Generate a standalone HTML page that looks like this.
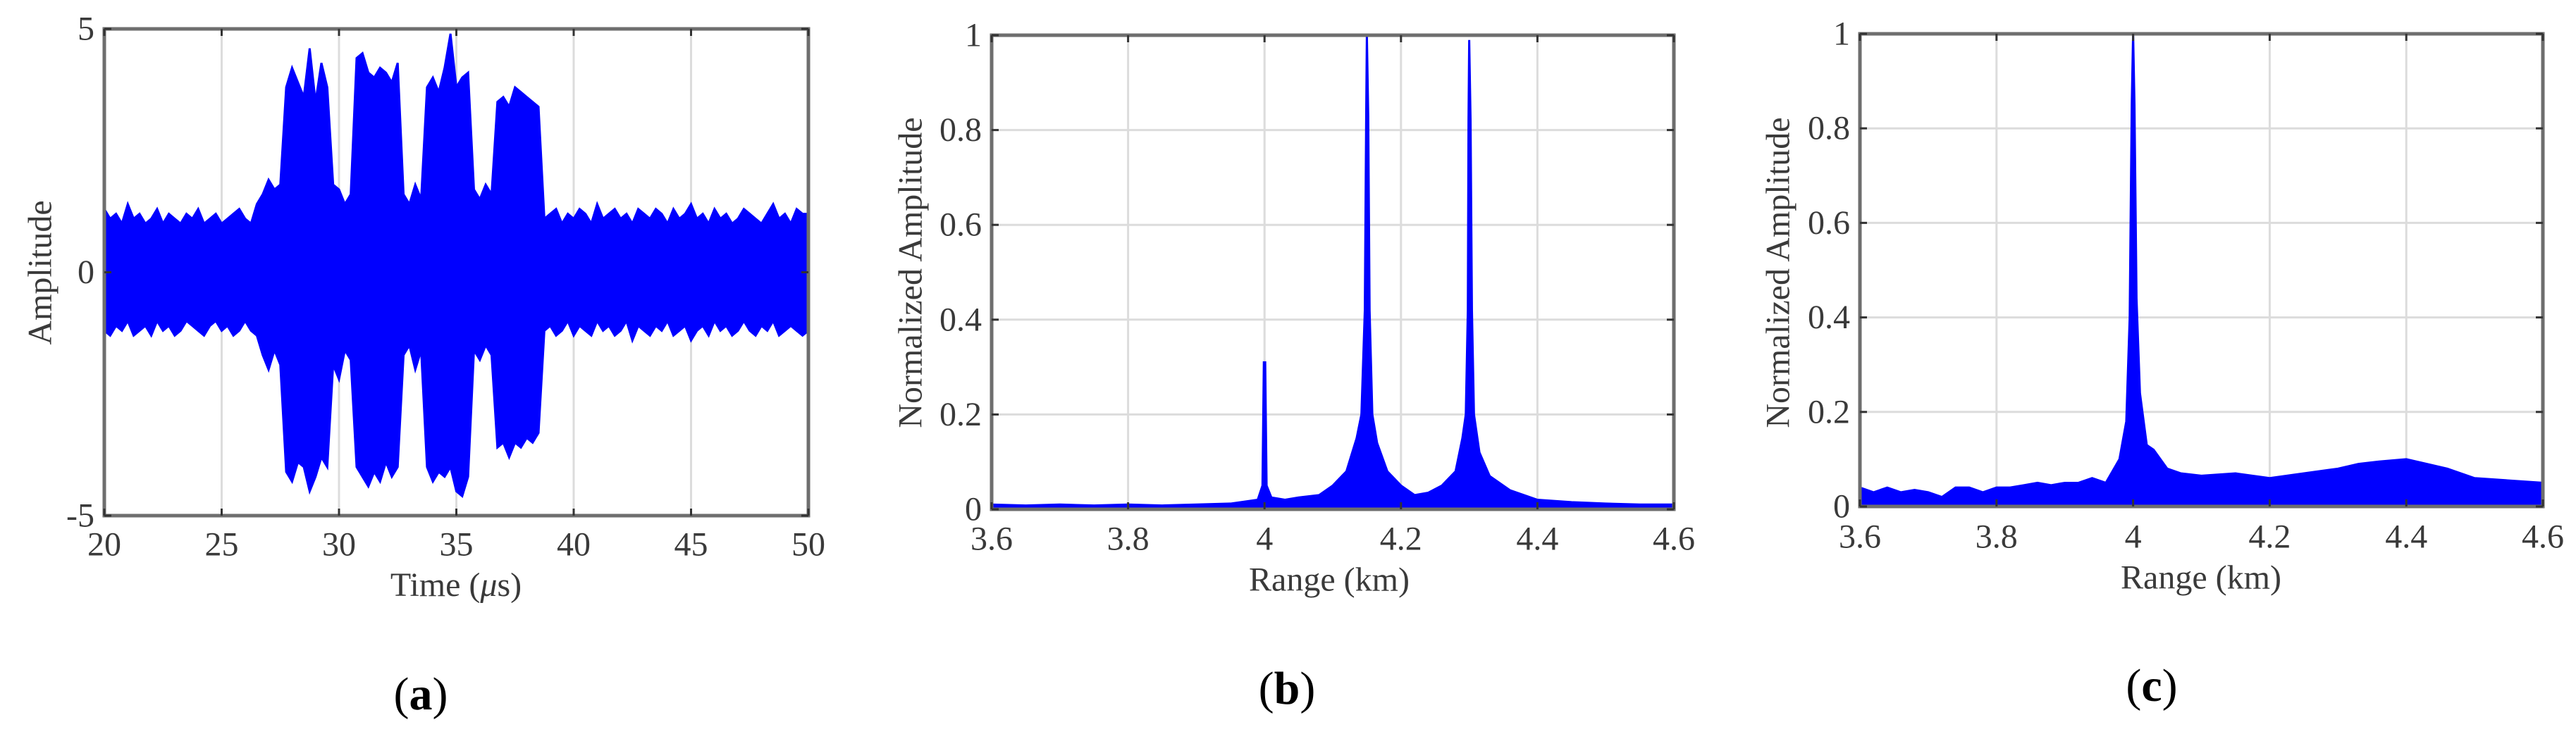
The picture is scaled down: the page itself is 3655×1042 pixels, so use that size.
<!DOCTYPE html>
<html><head><meta charset="utf-8">
<style>
html,body{margin:0;padding:0;background:#fff;}
svg{display:block;}
text{font-family:"Liberation Serif",serif;fill:#3a3a3a;}
</style></head>
<body>
<svg id="fig" width="3655" height="1042" viewBox="0 0 3655 1042" xmlns="http://www.w3.org/2000/svg"></svg>
<script>
// ---- Panel (a) data: time-domain envelope, step 0.25 us from 20 to 50
const timeStart = 20, timeStep = 0.25;
const ampUpper = [1.3,1.1,1.2,1.0,1.4,1.1,1.2,1.0,1.1,1.3,1.0,1.2,1.1,1.0,1.2,1.1,1.3,1.0,1.1,1.2,1.0,1.1,1.2,1.3,1.1,1.0,1.4,
 1.6,1.9,1.7,1.8,
 3.8,4.2,3.9,3.6,4.6,3.5,4.3,3.8,
 1.8,1.7,1.4,1.6,
 4.4,4.5,4.1,4.0,4.2,4.1,3.9,4.3,
 1.6,1.4,1.8,1.5,
 3.8,4.0,3.7,4.2,4.9,3.8,4.0,4.1,
 1.7,1.5,1.8,1.6,
 3.5,3.6,3.4,3.8,3.7,3.6,3.5,3.4,
 1.1,1.2,1.3,1.0,1.2,1.1,1.3,1.2,1.0,1.4,1.1,1.2,1.3,1.1,1.2,1.0,1.3,1.2,1.1,1.3,1.2,1.0,1.3,1.1,1.2,1.4,1.1,1.2,1.0,1.3,1.1,1.2,1.0,1.1,1.3,1.2,1.1,1.0,1.2,1.4,1.1,1.2,1.0,1.3,1.2,1.2];
const ampLower = [-1.2,-1.3,-1.1,-1.2,-1.0,-1.3,-1.2,-1.1,-1.3,-1.0,-1.2,-1.1,-1.3,-1.2,-1.0,-1.1,-1.2,-1.3,-1.1,-1.0,-1.2,-1.1,-1.3,-1.2,-1.0,-1.2,-1.3,
 -1.7,-2.0,-1.6,-1.9,
 -4.1,-4.3,-3.9,-4.0,-4.5,-4.2,-3.8,-4.0,
 -1.9,-2.2,-1.6,-1.8,
 -4.0,-4.2,-4.4,-4.1,-4.3,-3.9,-4.2,-4.0,
 -1.7,-1.5,-2.0,-1.6,
 -4.0,-4.3,-4.1,-4.2,-4.0,-4.5,-4.6,-4.2,
 -1.6,-1.8,-1.5,-1.7,
 -3.6,-3.5,-3.8,-3.5,-3.6,-3.4,-3.5,-3.3,
 -1.2,-1.1,-1.3,-1.2,-1.0,-1.3,-1.1,-1.2,-1.3,-1.0,-1.2,-1.1,-1.3,-1.2,-1.0,-1.4,-1.1,-1.2,-1.3,-1.1,-1.2,-1.0,-1.3,-1.2,-1.1,-1.4,-1.2,-1.1,-1.3,-1.0,-1.2,-1.1,-1.3,-1.2,-1.0,-1.2,-1.3,-1.1,-1.2,-1.0,-1.3,-1.2,-1.1,-1.2,-1.3,-1.2];
const timeTicks = [20,25,30,35,40,45,50];
const ampTicks = [-5,0,5];

// ---- Panel (b) data
const rangeB = [3.6,3.65,3.7,3.75,3.8,3.85,3.9,3.95,3.99,3.997,3.999,4.001,4.003,4.01,4.03,4.05,4.08,4.1,4.12,4.135,4.142,4.147,4.149,4.15,4.152,4.154,4.158,4.165,4.18,4.2,4.22,4.24,4.26,4.28,4.29,4.295,4.298,4.299,4.3,4.302,4.304,4.307,4.315,4.33,4.36,4.4,4.45,4.5,4.55,4.6];
const ampB = [0.01,0.008,0.01,0.008,0.01,0.008,0.01,0.012,0.02,0.05,0.31,0.31,0.05,0.025,0.02,0.025,0.03,0.05,0.08,0.15,0.2,0.42,0.83,1.0,0.83,0.42,0.2,0.14,0.08,0.05,0.03,0.035,0.05,0.08,0.15,0.2,0.42,0.82,0.99,0.82,0.42,0.2,0.12,0.07,0.04,0.02,0.015,0.012,0.01,0.01];

// ---- Panel (c) data
const rangeC = [3.6,3.62,3.64,3.66,3.68,3.7,3.72,3.74,3.76,3.78,3.8,3.82,3.84,3.86,3.88,3.9,3.92,3.94,3.96,3.98,3.99,3.995,3.998,4.0,4.002,4.005,4.01,4.02,4.03,4.05,4.07,4.1,4.15,4.2,4.25,4.3,4.33,4.36,4.4,4.43,4.46,4.5,4.55,4.6];
const ampC = [0.04,0.03,0.04,0.03,0.035,0.03,0.02,0.04,0.04,0.03,0.04,0.04,0.045,0.05,0.045,0.05,0.05,0.06,0.05,0.1,0.18,0.4,0.85,1.0,0.85,0.44,0.24,0.13,0.12,0.08,0.07,0.065,0.07,0.06,0.07,0.08,0.09,0.095,0.1,0.09,0.08,0.06,0.055,0.05];
const rangeTicks = [3.6,3.8,4.0,4.2,4.4,4.6];
const rangeTickLabels = ["3.6","3.8","4","4.2","4.4","4.6"];
const normTicks = [0,0.2,0.4,0.6,0.8,1];
const normTickLabels = ["0","0.2","0.4","0.6","0.8","1"];

const NS = "http://www.w3.org/2000/svg";
const svg = document.getElementById('fig');
function el(tag, attrs, parent){ const e=document.createElementNS(NS,tag); for(const k in attrs) e.setAttribute(k,attrs[k]); (parent||svg).appendChild(e); return e; }
function txt(s, attrs, parent){ const t=el('text',attrs,parent); t.textContent=s; return t; }

function makeAxes(cfg){
  const g = el('g',{});
  
  
  const sx = v => cfg.L + (v-cfg.x0)/(cfg.x1-cfg.x0)*(cfg.R-cfg.L);
  const sy = v => cfg.B - (v-cfg.y0)/(cfg.y1-cfg.y0)*(cfg.B-cfg.T);
  // grid
  cfg.xt.forEach(v=>{ const l=el('line',{x1:sx(v),x2:sx(v),y1:cfg.T,y2:cfg.B,stroke:'#dcdcdc','stroke-width':3},g);
      });
  cfg.yt.forEach(v=>{ const l=el('line',{x1:cfg.L,x2:cfg.R,y1:sy(v),y2:sy(v),stroke:'#dcdcdc','stroke-width':3},g);
      });
  return {g,sx,sy};
}
function finishAxes(cfg, ax){
  const g=ax.g, sx=ax.sx, sy=ax.sy;
  const box=el('rect',{x:cfg.L,y:cfg.T,width:cfg.R-cfg.L,height:cfg.B-cfg.T,fill:'none',stroke:'#6e6e6e','stroke-width':5},g);
   
  cfg.xt.forEach((v,i)=>{
    el('line',{x1:sx(v),x2:sx(v),y1:cfg.B,y2:cfg.B-10,stroke:'#333','stroke-width':3},g);
    el('line',{x1:sx(v),x2:sx(v),y1:cfg.T,y2:cfg.T+10,stroke:'#333','stroke-width':3},g);
    const t=txt(cfg.xl[i],{x:sx(v),y:cfg.labY,'font-size':48,'text-anchor':'middle','dominant-baseline':'central'},g);
     
  });
  cfg.yt.forEach((v,i)=>{
    el('line',{x1:cfg.L,x2:cfg.L+10,y1:sy(v),y2:sy(v),stroke:'#333','stroke-width':3},g);
    el('line',{x1:cfg.R,x2:cfg.R-10,y1:sy(v),y2:sy(v),stroke:'#333','stroke-width':3},g);
    const t=txt(cfg.yl[i],{x:cfg.L-14,y:sy(v),'font-size':48,'text-anchor':'end','dominant-baseline':'central'},g);
     
  });
  const xt=txt(cfg.xlabel,{x:cfg.xlabX,y:cfg.xlabY,'font-size':48,'text-anchor':'middle','dominant-baseline':'central'},g);
   
  if(cfg.xlabelHTML){ xt.textContent=''; const a=el('tspan',{},xt); a.textContent='Time ('; const b=el('tspan',{'font-style':'italic'},xt); b.textContent='μ'; const c=el('tspan',{},xt); c.textContent='s)'; }
  const yt=txt(cfg.ylabel,{x:cfg.ylabX,y:cfg.ylabY,'font-size':48,'text-anchor':'middle','dominant-baseline':'central',transform:`rotate(-90 ${cfg.ylabX} ${cfg.ylabY})`},g);
   
  const cap=el('text',{x:cfg.capX,y:cfg.capY,'font-size':66,'text-anchor':'middle','dominant-baseline':'central'},g);
   
  cap.style.fill='#000';
  const p1=el('tspan',{},cap); p1.textContent='(';
  const p2=el('tspan',{'font-weight':'bold'},cap); p2.textContent=cfg.cap;
  const p3=el('tspan',{},cap); p3.textContent=')';
}

// Panel a
const cfgA={name:'panel-a-time-signal',L:148,R:1147,T:41,B:732,x0:20,x1:50,y0:-5,y1:5,xt:timeTicks,xl:timeTicks.map(String),yt:ampTicks,yl:ampTicks.map(String),
  labY:773,xlabel:'Time (μs)',xlabelHTML:true,xlabX:647,xlabY:830,ylabel:'Amplitude',ylabX:57,ylabY:387,cap:'a',capX:597,capY:985};
const axA=makeAxes(cfgA);
{
  let pts=[];
  ampUpper.forEach((v,i)=>pts.push(axA.sx(timeStart+i*timeStep)+','+axA.sy(v)));
  for(let i=ampLower.length-1;i>=0;i--) pts.push(axA.sx(timeStart+i*timeStep)+','+axA.sy(ampLower[i]));
  const p=el('polygon',{points:pts.join(' '),fill:'#0000ff',stroke:'#0000ff','stroke-width':3,'stroke-linejoin':'miter'},axA.g);
   
}
finishAxes(cfgA,axA);

// Panel b
const cfgB={name:'panel-b-range-profile',L:1407,R:2375,T:50,B:723,x0:3.6,x1:4.6,y0:0,y1:1,xt:rangeTicks,xl:rangeTickLabels,yt:normTicks,yl:normTickLabels,
  labY:765,xlabel:'Range (km)',xlabX:1886,xlabY:823,ylabel:'Normalized Amplitude',ylabX:1292,ylabY:387,cap:'b',capX:1826,capY:977};
const axB=makeAxes(cfgB);
{
  let pts=[axB.sx(rangeB[0])+','+axB.sy(0)];
  rangeB.forEach((r,i)=>pts.push(axB.sx(r)+','+axB.sy(ampB[i])));
  pts.push(axB.sx(rangeB[rangeB.length-1])+','+axB.sy(0));
  const p=el('polygon',{points:pts.join(' '),fill:'#0000ff',stroke:'#0000ff','stroke-width':3},axB.g);
   
}
finishAxes(cfgB,axB);

// Panel c
const cfgC={name:'panel-c-range-profile',L:2639,R:3608,T:48,B:719,x0:3.6,x1:4.6,y0:0,y1:1,xt:rangeTicks,xl:rangeTickLabels,yt:normTicks,yl:normTickLabels,
  labY:762,xlabel:'Range (km)',xlabX:3123,xlabY:820,ylabel:'Normalized Amplitude',ylabX:2523,ylabY:387,cap:'c',capX:3053,capY:973};
const axC=makeAxes(cfgC);
{
  let pts=[axC.sx(rangeC[0])+','+axC.sy(0)];
  rangeC.forEach((r,i)=>pts.push(axC.sx(r)+','+axC.sy(ampC[i])));
  pts.push(axC.sx(rangeC[rangeC.length-1])+','+axC.sy(0));
  const p=el('polygon',{points:pts.join(' '),fill:'#0000ff',stroke:'#0000ff','stroke-width':3},axC.g);
   
}
finishAxes(cfgC,axC);
</script>
</body></html>
